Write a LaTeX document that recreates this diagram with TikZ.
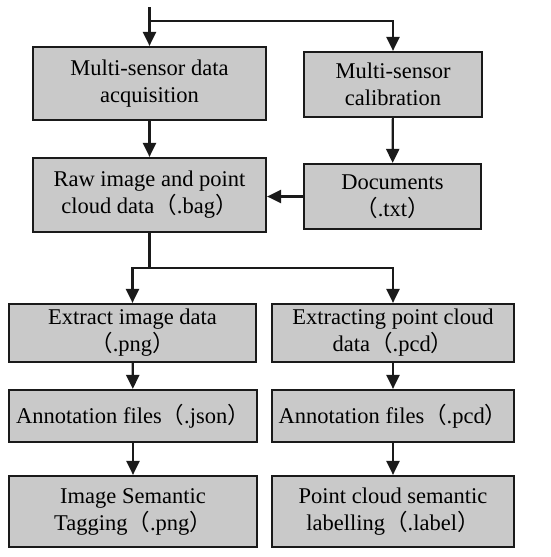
\documentclass[tikz,border=0pt]{standalone}
\usepackage{fontspec}
\setmainfont{Liberation Serif}
\newfontfamily\cjk{Noto Sans CJK SC}
\usepackage{tikz}
\usetikzlibrary{arrows.meta,positioning,calc}
\usepackage{xcolor}
\definecolor{boxbg}{HTML}{C9C9C9}
\definecolor{boxline}{HTML}{1A1A1A}
\tikzset{
  box/.style={draw=boxline, fill=boxbg, line width=2.2pt, align=center, inner sep=2pt,
    font=\fontsize{22.5}{27}\selectfont},
  arr/.style={-{Triangle[length=14pt, width=13pt]}, line width=2.2pt, color=boxline},
  ln/.style={line width=2.2pt, color=boxline},
}
\newcommand{\fwl}{{\cjk （}}
\newcommand{\fwr}{{\cjk ）}}

\begin{document}
\begin{tikzpicture}[x=1pt, y=-1pt]
    \useasboundingbox (0,0) rectangle (550,557);
    \node[box, minimum width=233pt, minimum height=73pt] (acq) at (149.5,83.5) {Multi-sensor data\\acquisition};
    \node[box, minimum width=178pt, minimum height=65pt] (cal) at (393,84.5) {Multi-sensor\\calibration};
    \node[box, minimum width=233pt, minimum height=74pt] (raw) at (149.5,195) {Raw image and point\\cloud data\fwl.bag\fwr};
    \node[box, minimum width=177pt, minimum height=65pt] (doc) at (392.5,196.5) {Documents\\\fwl.txt\fwr};
    \node[box, minimum width=247pt, minimum height=58pt] (ext) at (132.5,333) {Extract image data\\\fwl.png\fwr};
    \node[box, minimum width=242pt, minimum height=58pt] (extp) at (393,333) {Extracting point cloud\\data\fwl.pcd\fwr};
    \node[box, minimum width=248pt, minimum height=52pt] (ann) at (133,416) {Annotation files\fwl.json\fwr};
    \node[box, minimum width=242pt, minimum height=52pt] (annp) at (393,416) {Annotation files\fwl.pcd\fwr};
    \node[box, minimum width=248pt, minimum height=71pt] (tag) at (133,511.5) {Image Semantic\\Tagging\fwl.png\fwr};
    \node[box, minimum width=242pt, minimum height=71pt] (lab) at (393,511.5) {Point cloud semantic\\labelling\fwl.label\fwr};
    \coordinate (in) at (149.5,7);
    \coordinate (split) at (149.5,21);
    \coordinate (fork) at (149.5,268);
    \draw[arr] (in) -- (acq.north); \draw[arr] (split) -| (cal.north);
    \draw[arr] (acq) -- (raw); \draw[arr] (cal) -- (doc);
    \draw[arr] (doc.west) -- (doc.west -| raw.east);
    \draw[ln] (raw.south) -- (fork);
    \draw[arr] (fork) -| (ext.north); \draw[arr] (fork) -| (extp.north);
    \draw[arr] (ext) -- (ann); \draw[arr] (extp) -- (annp);
    \draw[arr] (ann) -- (tag); \draw[arr] (annp) -- (lab);
  \end{tikzpicture}
\end{document}
